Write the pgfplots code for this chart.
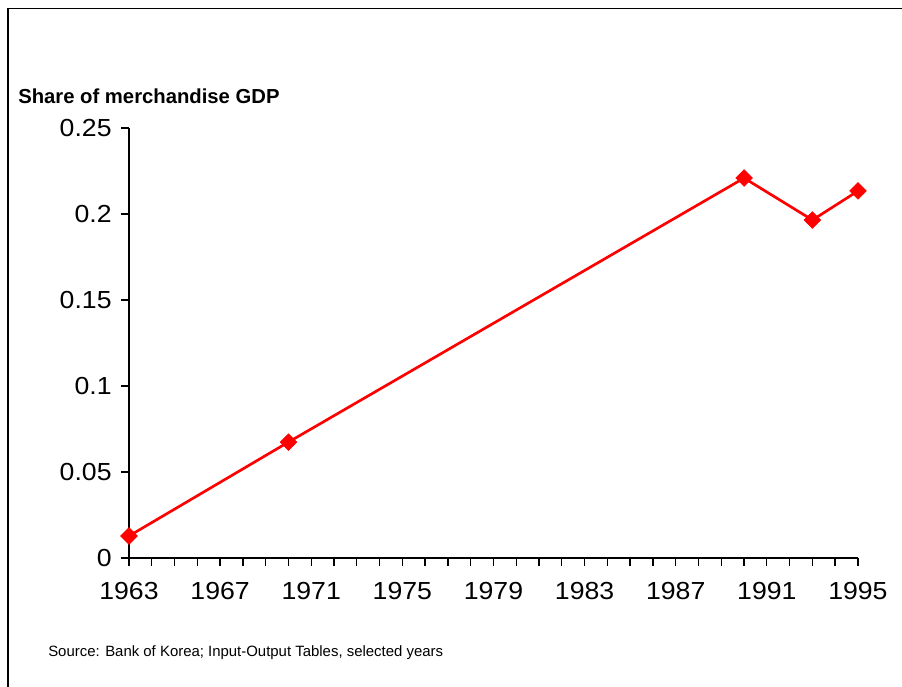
\documentclass[border=0pt]{standalone}
\usepackage{pgfplots}
\pgfplotsset{compat=1.18}
\usepackage{fontspec}
\setmainfont{Liberation Sans}
\begin{document}
\begin{tikzpicture}
\useasboundingbox (0,0) rectangle (676.5pt,514.5pt);
\draw[line width=1.4pt] (6pt,-2pt) -- (6pt,508.1pt) -- (678pt,508.1pt);
\node[anchor=base west,inner sep=0pt,font=\bfseries\fontsize{15.2}{17}\selectfont] at (13.5pt,436.5pt) {Share of merchandise GDP};
\node[anchor=base west,inner sep=0pt,font=\fontsize{11.2}{13}\selectfont] at (36pt,22.5pt) {Source: Bank of Korea; Input-Output Tables, selected years};
\begin{axis}[
  at={(96.75pt,96pt)}, anchor=origin,
  width=546.75pt, height=322.5pt, scale only axis,
  xmin=1963, xmax=1995, ymin=0, ymax=0.25,
  axis x line*=bottom, axis y line*=left,
  axis line style={line width=1pt},
  tick style={line width=1pt,black},
  tick align=outside,
  major tick length=6pt,
  xtick={1963,1964,...,1995},
  xticklabels={1963,,,,1967,,,,1971,,,,1975,,,,1979,,,,1983,,,,1987,,,,1991,,,,1995},
  ytick={0,0.05,0.1,0.15,0.2,0.25},
  yticklabels={0,0.05,0.1,0.15,0.2,0.25},
  ticklabel style={font=\fontsize{18.5}{20}\selectfont},
  xticklabel style={xscale=1.08, yshift=-9pt},
  yticklabel style={xscale=1.08, xshift=-3pt},
  clip=false,
]
\addplot[color=red, line width=2pt, mark=square*, mark size=4.4pt, mark options={rotate=45, fill=red, line width=0.5pt}]
  coordinates {(1963,0.0128) (1970,0.0674) (1990,0.2209) (1993,0.1965) (1995,0.2134)};
\end{axis}
\end{tikzpicture}
\end{document}
